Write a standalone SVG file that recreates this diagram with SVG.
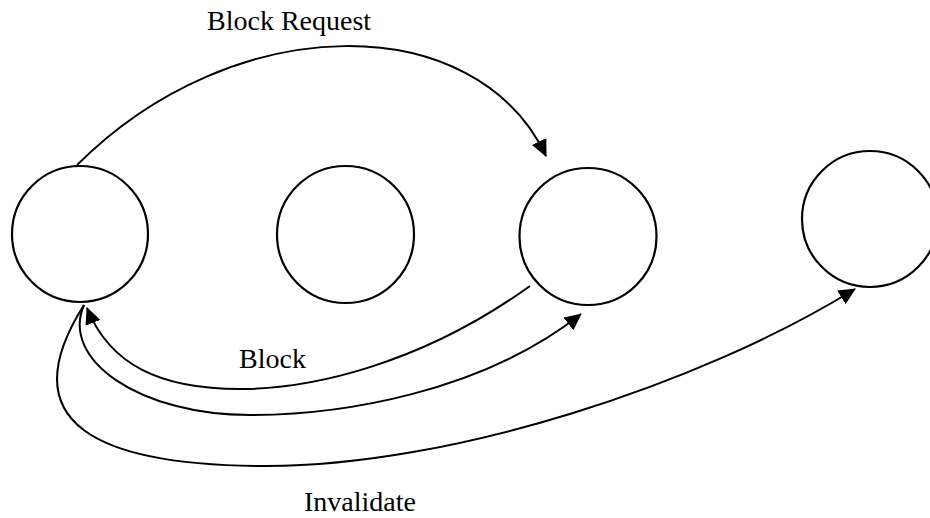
<svg xmlns="http://www.w3.org/2000/svg" width="930" height="518" viewBox="0 0 930 518">
  <style>
    .node { fill: #ffffff; stroke: #000000; stroke-width: 2.2; }
    .edge { fill: none; stroke: #000000; stroke-width: 2; marker-end: url(#arrow); }
    .label { font-family: "Liberation Serif", "Times New Roman", serif; font-size: 28px; fill: #000000; }
  </style>
  <defs>
    <marker id="arrow" markerUnits="userSpaceOnUse" viewBox="0 0 17 16" markerWidth="17" markerHeight="16" refX="16" refY="8" orient="auto">
      <path d="M0,0 L17,8 L0,16 z" fill="#000000"/>
    </marker>
  </defs>
  <rect width="930" height="518" fill="#ffffff"/>

  <!-- states -->
  <g id="node-1"><circle class="node" cx="80" cy="234" r="68"/></g>
  <g id="node-2"><circle class="node" cx="345.5" cy="234.5" r="68.5"/></g>
  <g id="node-3"><circle class="node" cx="588" cy="236.5" r="68.5"/></g>
  <g id="node-4"><circle class="node" cx="870" cy="219" r="68"/></g>

  <!-- transitions -->
  <g id="connectors">
    <path class="edge" d="M77,165 C234,8 476,8 546,156"/>
    <path class="edge" d="M530,286 C420,365 310,389 240,389 C160,389 110,365 87,308"/>
    <path class="edge" d="M84,305 C60,360 140,415 250,415 C340,415 481,393 581,314"/>
    <path class="edge" d="M84,305 C8,425 100,466 267,466 C450,466 700,385 855,289"/>
  </g>

  <g id="labels">
    <text class="label" x="207" y="30">Block Request</text>
    <text class="label" x="239" y="368">Block</text>
    <text class="label" x="304" y="511">Invalidate</text>
  </g>
</svg>
